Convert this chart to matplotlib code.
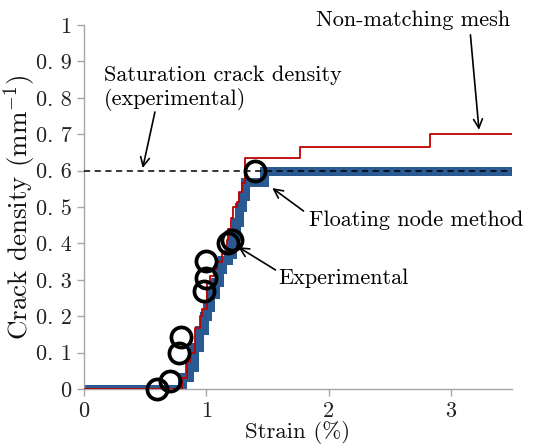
import matplotlib
matplotlib.use("Agg")
import matplotlib.pyplot as plt

# ---- data ----
fnm_strain = [0, 0.80, 0.855, 0.896, 0.937, 0.978, 1.005, 1.03, 1.07, 1.10, 1.13, 1.18, 1.21, 1.24, 1.265, 1.29, 1.32, 1.47, 3.5]
fnm_density = [0, 0.034, 0.06, 0.116, 0.162, 0.20, 0.226, 0.26, 0.295, 0.33, 0.355, 0.37, 0.42, 0.46, 0.50, 0.53, 0.57, 0.60, 0.60]

nm_strain = [0, 0.80, 0.84, 0.87, 0.91, 0.95, 0.965, 1.005, 1.03, 1.06, 1.09, 1.13, 1.17, 1.18, 1.20, 1.22, 1.25, 1.265, 1.29, 1.32, 1.77, 2.83, 3.5]
nm_density = [0, 0.03, 0.075, 0.10, 0.167, 0.20, 0.22, 0.29, 0.31, 0.33, 0.35, 0.37, 0.41, 0.44, 0.47, 0.50, 0.515, 0.54, 0.565, 0.634, 0.665, 0.70, 0.70]

exp_strain = [0.60, 0.705, 0.78, 0.79, 0.98, 1.00, 1.00, 1.18, 1.21, 1.40]
exp_density = [0.0, 0.022, 0.10, 0.144, 0.27, 0.305, 0.352, 0.40, 0.41, 0.60]

saturation = 0.6

x_ticks = [0, 1, 2, 3]
y_ticks = [0, 0.1, 0.2, 0.3, 0.4, 0.5, 0.6, 0.7, 0.8, 0.9, 1.0]
y_ticklabels = ["0", "0. 1", "0. 2", "0. 3", "0. 4", "0. 5", "0. 6", "0. 7", "0. 8", "0. 9", "1"]

plt.rcParams['font.family'] = ['cmr10', 'DejaVu Serif']
plt.rcParams['mathtext.fontset'] = 'cm'
plt.rcParams['axes.unicode_minus'] = False
plt.rcParams['font.size'] = 16

fig = plt.figure(figsize=(5.33, 4.47), dpi=100)
ax = fig.add_axes([0.1576, 0.1298, 0.8030, 0.8142])

ax.plot(fnm_strain, fnm_density, drawstyle='steps-post', color='#2b5a92', lw=6.5, zorder=2,
        solid_joinstyle='miter')
ax.axhline(saturation, color='black', ls=(0, (4, 3)), lw=1.1, zorder=3)
ax.plot(nm_strain, nm_density, drawstyle='steps-post', color='#c00000', lw=1.3, zorder=4)
ax.plot(exp_strain, exp_density, 'o', mfc='none', mec='black', mew=2.7, ms=14.5, zorder=5, clip_on=False)

ax.set_xlim(0, 3.5)
ax.set_ylim(0, 1)
ax.set_xticks(x_ticks)
ax.set_xticklabels([str(t) for t in x_ticks])
ax.set_yticks(y_ticks)
ax.set_yticklabels(y_ticklabels)

for s in ['top', 'right']:
    ax.spines[s].set_visible(False)
for s in ['left', 'bottom']:
    ax.spines[s].set_color('#a6a6a6')
    ax.spines[s].set_linewidth(1.0)
ax.tick_params(axis='both', colors='#a6a6a6', labelcolor='#222222', length=5, width=1.0,
               direction='out', labelsize=16)
ax.tick_params(axis='x', pad=4)
ax.tick_params(axis='y', pad=4)

ax.set_xlabel('Strain (%)', fontsize=16.5, labelpad=0, color='#111111')
ax.set_ylabel(r'Crack density (mm$^{-1}$)', fontsize=19.5, color='#111111')
ax.yaxis.set_label_coords(-0.108, 0.5)

arrow = dict(arrowstyle='->', color='black', lw=1.2, shrinkA=0, shrinkB=0)

ax.text(2.69, 1.014, 'Non-matching mesh', ha='center', va='center', fontsize=16, clip_on=False)
ax.annotate('', xy=(3.23, 0.712), xytext=(3.16, 0.973), arrowprops=arrow)

ax.text(0.164, 0.826, 'Saturation crack density\n(experimental)', ha='left', va='center',
        fontsize=16, linespacing=1.15)
ax.annotate('', xy=(0.48, 0.607), xytext=(0.58, 0.761), arrowprops=arrow)

ax.text(1.836, 0.464, 'Floating node method', ha='left', va='center', fontsize=16)
ax.annotate('', xy=(1.54, 0.552), xytext=(1.795, 0.489), arrowprops=arrow)

ax.text(1.59, 0.305, 'Experimental', ha='left', va='center', fontsize=16)
ax.annotate('', xy=(1.262, 0.39), xytext=(1.566, 0.327), arrowprops=arrow)

fig.savefig('out.png', dpi=100)
